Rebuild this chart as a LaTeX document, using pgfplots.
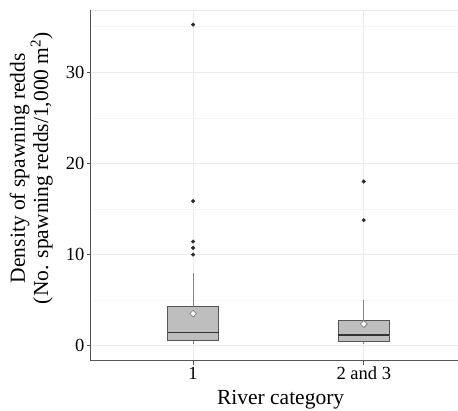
\documentclass[border=0pt]{standalone}
\usepackage{fontspec}
\setmainfont{Liberation Serif}
\usepackage{pgfplots}
\pgfplotsset{compat=1.18}
\usepgfplotslibrary{statistics}

\definecolor{gridmaj}{HTML}{EBEBEB}
\definecolor{gridmin}{HTML}{F5F5F5}
\definecolor{axcol}{HTML}{555555}
\definecolor{boxfill}{HTML}{BEBEBE}
\definecolor{boxedge}{HTML}{555555}
\definecolor{whisk}{HTML}{858585}
\definecolor{medcol}{HTML}{333333}
\definecolor{ptcol}{HTML}{2B2B2B}

\begin{document}
\begin{tikzpicture}
\useasboundingbox (-90.7pt,-50.3pt) rectangle (367.3pt,360.7pt);
\begin{axis}[
  scale only axis,
  width=367.3pt, height=350.7pt,
  xmin=0.4, xmax=2.552,
  ymin=-1.646, ymax=36.84,
  axis x line*=bottom, axis y line*=left,
  axis line style={axcol, line width=0.9pt},
  xtick={1,2}, xticklabels={1, 2 and 3},
  ytick={0,10,20,30},
  minor ytick={5,15,25,35},
  minor tick length=0pt,
  major tick length=4pt,
  tick align=outside,
  tick style={axcol, line width=0.8pt},
  xmajorgrids, ymajorgrids, yminorgrids,
  major grid style={gridmaj, line width=0.8pt},
  minor grid style={gridmin, line width=0.6pt},
  /pgf/number format/assume math mode=true,
  tick label style={font=\fontsize{18.5}{20}\selectfont, text=black},
  xticklabel style={inner sep=2pt},
  yticklabel style={inner sep=2pt},
  xlabel={River category},
  xlabel style={font=\fontsize{21.5}{22}\selectfont, at={(axis description cs:0.517,0)}, anchor=base, yshift=-44.3pt, inner sep=0pt},
  ylabel={Density of spawning redds\\(No. spawning redds/1,000 m\textsuperscript{2})},
  ylabel style={font=\fontsize{21.5}{21.6}\selectfont, align=center, at={(axis description cs:-0.103,0.549)}, anchor=south, inner sep=0pt},
  boxplot/draw direction=y,
  boxplot/whisker extend=0,
  boxplot/every whisker/.style={draw=whisk, line width=1pt},
  boxplot/every median/.style={draw=medcol, line width=1.6pt},
  boxplot/every box/.style={draw=boxedge, fill=boxfill, line width=0.9pt},
]
\draw[gridmaj, line width=0.9pt] (axis description cs:0,1) -- (axis description cs:1,1);

\addplot[boxplot prepared={lower whisker=0.19, lower quartile=0.55, median=1.47,
    upper quartile=4.36, upper whisker=8.02, draw position=1, box extend=0.3},
  mark=*, mark size=1.8pt, mark options={fill=ptcol, draw=ptcol}]
  coordinates {(0,35.24) (0,15.87) (0,11.43) (0,10.74) (0,10.0)};

\addplot[boxplot prepared={lower whisker=0.19, lower quartile=0.48, median=1.18,
    upper quartile=2.75, upper whisker=5.02, draw position=2, box extend=0.3},
  mark=*, mark size=1.8pt, mark options={fill=ptcol, draw=ptcol}]
  coordinates {(0,18.02) (0,13.78)};

\addplot[only marks, mark=square*, mark size=2.4pt,
  mark options={rotate=45, fill=white, draw=whisk, line width=0.8pt}]
  coordinates {(1,3.52) (2,2.38)};
\end{axis}
\end{tikzpicture}
\end{document}
